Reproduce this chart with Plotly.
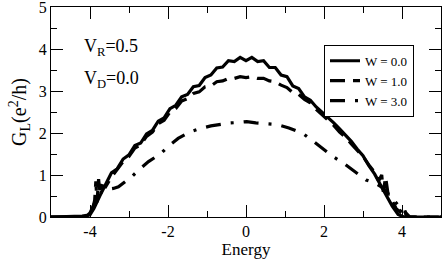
import plotly.graph_objects as go

# W = 0.0
e0 = [-5.0, -4.5, -4.2, -4.0, -3.9, -3.75, -3.6, -3.45, -3.3, -3.15, -3.0, -2.85, -2.7, -2.55, -2.4,
      -2.25, -2.1, -1.95, -1.8, -1.65, -1.5, -1.35, -1.2, -1.05, -0.9, -0.75, -0.6, -0.45, -0.3,
      -0.15, 0.0, 0.15, 0.3, 0.45, 0.6, 0.75, 0.9, 1.05, 1.2, 1.35, 1.5, 1.65, 1.8, 1.95, 2.1,
      2.25, 2.4, 2.55, 2.7, 2.85, 3.0, 3.15, 3.3, 3.45, 3.6, 3.75, 3.9, 4.05, 4.5, 5.0]
g0 = [0.0, 0.01, 0.02, 0.05, 0.2, 0.5, 0.78, 1.05, 1.15, 1.38, 1.48, 1.7, 1.76, 1.98, 2.06,
      2.28, 2.36, 2.58, 2.66, 2.86, 2.92, 3.1, 3.13, 3.32, 3.38, 3.55, 3.57, 3.72, 3.7,
      3.8, 3.72, 3.8, 3.7, 3.72, 3.56, 3.56, 3.38, 3.34, 3.12, 3.06, 2.86, 2.78, 2.62, 2.5, 2.38,
      2.24, 2.1, 1.96, 1.8, 1.62, 1.46, 1.22, 1.02, 0.76, 0.52, 0.26, 0.06, 0.0, 0.0, 0.0]

# W = 1.0
e1 = [-5.0, -4.5, -4.05, -3.95, -3.88, -3.85, -3.82, -3.78, -3.74, -3.7, -3.6, -3.45, -3.3, -3.15,
      -3.0, -2.85, -2.7, -2.55, -2.4, -2.25, -2.1, -1.95, -1.8, -1.65, -1.5, -1.35, -1.2, -1.05,
      -0.9, -0.75, -0.6, -0.45, -0.3, -0.15, 0.0, 0.15, 0.3, 0.45, 0.6, 0.75, 0.9, 1.05, 1.2,
      1.35, 1.5, 1.65, 1.8, 1.95, 2.1, 2.25, 2.4, 2.55, 2.7, 2.85, 3.0, 3.15, 3.3, 3.4, 3.48,
      3.52, 3.58, 3.65, 3.75, 3.85, 3.95, 4.05, 4.1, 4.2, 4.5, 5.0]
g1 = [0.0, 0.0, 0.0, 0.1, 0.4, 0.85, 0.35, 0.9, 0.55, 0.75, 0.72, 0.95, 1.12, 1.32,
      1.44, 1.64, 1.72, 1.92, 2.02, 2.22, 2.3, 2.5, 2.58, 2.76, 2.82, 2.94, 2.98, 3.1,
      3.12, 3.22, 3.24, 3.3, 3.3, 3.34, 3.32, 3.34, 3.3, 3.3, 3.24, 3.22, 3.14, 3.08, 2.96,
      2.92, 2.8, 2.72, 2.56, 2.44, 2.3, 2.18, 2.02, 1.9, 1.74, 1.6, 1.44, 1.24, 1.06, 0.86, 1.0,
      0.6, 0.95, 0.5, 0.38, 0.2, 0.12, 0.25, 0.05, 0.0, 0.0, 0.0]

# W = 3.0
e3 = [-5.0, -4.5, -4.1, -4.0, -3.9, -3.8, -3.7, -3.55, -3.4, -3.27, -3.1, -2.93, -2.75, -2.5,
      -2.3, -2.17, -2.0, -1.74, -1.43, -1.2, -0.9, -0.6, -0.4, -0.2, 0.02, 0.25, 0.53, 0.8,
      1.1, 1.46, 1.8, 2.0, 2.23, 2.5, 2.74, 3.08, 3.33, 3.5, 3.7, 3.93, 4.1, 4.2, 4.5, 5.0]
g3 = [0.0, 0.0, 0.0, 0.1, 0.3, 0.5, 0.6, 0.66, 0.68, 0.72, 0.84, 0.96, 1.12, 1.32,
      1.44, 1.52, 1.68, 1.87, 2.03, 2.1, 2.17, 2.22, 2.24, 2.25, 2.27, 2.24, 2.22, 2.2,
      2.12, 1.99, 1.75, 1.6, 1.44, 1.28, 1.12, 0.88, 0.8, 0.7, 0.5, 0.25, 0.1, 0.0, 0.0, 0.0]

x_ticks = [-4, -2, 0, 2, 4]
x_ticktext = ["-4", "-2", "0", "2", "4"]
y_ticks = [0, 1, 2, 3, 4, 5]

font = "Liberation Serif, Times New Roman, serif"

fig = go.Figure()
fig.add_trace(go.Scatter(x=e0, y=g0, mode="lines", name="W = 0.0",
                         line=dict(color="black", width=3.2)))
fig.add_trace(go.Scatter(x=e1, y=g1, mode="lines", name="W = 1.0",
                         line=dict(color="black", width=3.2, dash="15px,8px")))
fig.add_trace(go.Scatter(x=e3, y=g3, mode="lines", name="W = 3.0",
                         line=dict(color="black", width=3.2, dash="15px,10px,3px,10px")))

axis_common = dict(showgrid=False, zeroline=False, showline=True, linecolor="black",
                   linewidth=1, mirror="ticks", ticks="inside", ticklen=12, tickwidth=1,
                   tickcolor="black", automargin=False, ticklabeloverflow="allow",
                   tickfont=dict(family=font, size=16, color="black"))

fig.update_xaxes(range=[-5, 5], tickvals=x_ticks, ticktext=x_ticktext,
                 minor=dict(tickvals=[-5, -3, -1, 1, 3, 5], ticks="inside", ticklen=6,
                            tickcolor="black", tickwidth=1),
                 title=dict(text="Energy", font=dict(family=font, size=17, color="black"),
                            standoff=2),
                 **axis_common)
fig.update_yaxes(range=[0, 5], tickvals=y_ticks,
                 minor=dict(tickvals=[0.5, 1.5, 2.5, 3.5, 4.5], ticks="inside", ticklen=6,
                            tickcolor="black", tickwidth=1),
                 title=dict(text="G<sub>L</sub>(e<sup>2</sup>/h)",
                            font=dict(family=font, size=20, color="black"), standoff=6),
                 **axis_common)

fig.add_annotation(x=0.08, y=0.805, xref="paper", yref="paper", xanchor="left",
                   yanchor="middle", showarrow=False, text="V<sub>R</sub>=0.5",
                   font=dict(family=font, size=18, color="black"))
fig.add_annotation(x=0.08, y=0.655, xref="paper", yref="paper", xanchor="left",
                   yanchor="middle", showarrow=False, text="V<sub>D</sub>=0.0",
                   font=dict(family=font, size=18, color="black"))

fig.update_layout(
    width=443, height=260,
    margin=dict(l=51, r=2, t=7, b=43),
    paper_bgcolor="white", plot_bgcolor="white",
    showlegend=True,
    font=dict(family=font),
    legend=dict(x=0.70, y=0.82, xanchor="left", yanchor="top",
                bgcolor="white", bordercolor="black", borderwidth=1,
                font=dict(family=font, size=13, color="black"),
                itemwidth=30, tracegroupgap=0),
)

fig.write_html("out.html", config={"displayModeBar": False},
               post_script="document.body.style.margin='0';document.body.style.padding='0';")
